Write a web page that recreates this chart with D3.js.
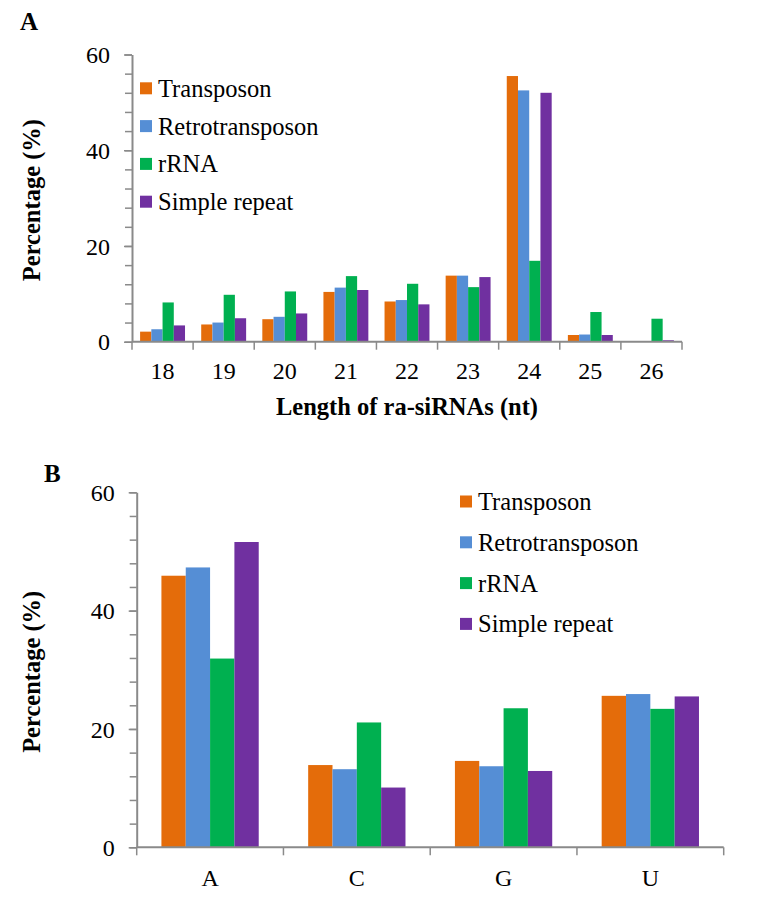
<!DOCTYPE html>
<html>
<head>
<meta charset="utf-8">
<script src="https://cdn.jsdelivr.net/npm/d3@7"></script>
<style>
  body { margin: 0; background: #fff; }
  svg text { font-family: "Liberation Serif", "Times New Roman", serif !important; fill: #000; }
</style>
</head>
<body>
<svg id="chart" width="758" height="906"></svg>
<script>
// series shared by both panels
var seriesNames = ["Transposon", "Retrotransposon", "rRNA", "Simple repeat"];
var seriesColors = ["#e46c0a", "#558ed5", "#00b050", "#7030a0"];

// panel A: length distribution
var lengths = ["18", "19", "20", "21", "22", "23", "24", "25", "26"];
var lenTransposon = [2.1, 3.6, 4.7, 10.4, 8.4, 13.8, 55.5, 1.4, 0];
var lenRetro = [2.6, 4.0, 5.2, 11.3, 8.7, 13.8, 52.5, 1.5, 0];
var lenRRNA = [8.2, 9.8, 10.5, 13.7, 12.1, 11.4, 16.9, 6.2, 4.8];
var lenSimple = [3.4, 4.9, 5.9, 10.8, 7.8, 13.5, 52.0, 1.4, 0.3];

// panel B: first nucleotide
var bases = ["A", "C", "G", "U"];
var baseTransposon = [45.9, 13.9, 14.6, 25.6];
var baseRetro = [47.3, 13.2, 13.7, 25.9];
var baseRRNA = [31.9, 21.1, 23.5, 23.4];
var baseSimple = [51.6, 10.1, 12.9, 25.5];

var yMajor = [0, 20, 40, 60];
var yMinor = d3.range(0, 61, 4);

var serif = "'Liberation Serif', 'Times New Roman', serif";
var axisColor = "#8a8a8a";
var svg = d3.select("#chart").attr("font-family", serif);

var drawPanel = function(cfg) {
  var g = svg.append("g");
  var table = cfg.cats.map(function(c, i) {
    return {cat: c, vals: cfg.values.map(function(v) { return v[i]; })};
  });

  var x = d3.scaleBand().domain(cfg.cats).range([cfg.left, cfg.right])
    .paddingInner(cfg.pad).paddingOuter(cfg.pad / 2);
  var xs = d3.scaleBand().domain(d3.range(seriesNames.length)).range([0, x.bandwidth()]);
  var y = d3.scaleLinear().domain([0, 60]).range([cfg.bottom, cfg.top]);

  // bars
  g.selectAll("g.grp").data(table).enter().append("g")
    .attr("transform", function(d) { return "translate(" + x(d.cat) + ",0)"; })
    .selectAll("rect").data(function(d) { return d.vals; }).enter().append("rect")
      .attr("x", function(d, i) { return xs(i); })
      .attr("width", xs.bandwidth())
      .attr("y", function(d) { return y(d); })
      .attr("height", function(d) { return y(0) - y(d); })
      .attr("fill", function(d, i) { return seriesColors[i]; });

  // y axis: minor then major ticks
  var minor = g.append("g").attr("transform", "translate(" + cfg.left + ",0)")
    .call(d3.axisLeft(y).tickValues(yMinor).tickSize(7).tickSizeOuter(0).tickFormat(""));
  minor.select(".domain").attr("stroke", axisColor).attr("stroke-width", 2);
  minor.selectAll(".tick line").attr("stroke", axisColor).attr("stroke-width", 1.5);

  var major = g.append("g").attr("transform", "translate(" + cfg.left + ",0)")
    .call(d3.axisLeft(y).tickValues(yMajor).tickSize(8).tickPadding(14).tickSizeOuter(0));
  major.attr("font-family", serif).attr("font-size", 24);
  major.select(".domain").remove();
  major.selectAll(".tick line").attr("stroke", axisColor).attr("stroke-width", 1.5);
  major.selectAll(".tick text")
    .style("font-family", serif)
    .style("font-size", "24px").attr("fill", "#000").attr("dy", "0.34em");

  // x axis line + category boundary ticks
  g.append("line")
    .attr("x1", cfg.left).attr("x2", cfg.right)
    .attr("y1", y(0)).attr("y2", y(0))
    .attr("stroke", axisColor).attr("stroke-width", 2);
  var bounds = d3.range(cfg.cats.length + 1);
  g.selectAll("line.bt").data(bounds).enter().append("line")
    .attr("x1", function(i) { return cfg.left + i * x.step(); })
    .attr("x2", function(i) { return cfg.left + i * x.step(); })
    .attr("y1", y(0)).attr("y2", y(0) + 8)
    .attr("stroke", axisColor).attr("stroke-width", 1.5);
  g.selectAll("text.cat").data(cfg.cats).enter().append("text")
    .attr("x", function(d) { return x(d) + x.bandwidth() / 2; })
    .attr("y", y(0) + cfg.catDy)
    .attr("text-anchor", "middle")
    .style("font-family", serif).style("font-size", "24px")
    .text(function(d) { return d; });

  // titles
  g.append("text")
    .attr("x", cfg.tagX).attr("y", cfg.tagY)
    .style("font-family", serif).style("font-size", "25px").style("font-weight", "bold")
    .text(cfg.tag);
  g.append("text")
    .attr("transform", "translate(40," + ((cfg.top + cfg.bottom) / 2 + 2) + ") rotate(-90)")
    .attr("text-anchor", "middle")
    .style("font-family", serif).style("font-size", "24.5px").style("font-weight", "bold")
    .text("Percentage (%)");
  if (cfg.xTitle) {
    g.append("text")
      .attr("x", (cfg.left + cfg.right) / 2) .attr("y", cfg.xTitleY)
      .attr("text-anchor", "middle")
      .style("font-family", serif).style("font-size", "24.5px").style("font-weight", "bold")
      .text(cfg.xTitle);
  }

  // legend
  var leg = g.selectAll("g.leg").data(seriesNames).enter().append("g")
    .attr("transform", function(d, i) {
      return "translate(" + cfg.legX + "," + (cfg.legY + i * cfg.legStep) + ")";
    });
  leg.append("rect")
    .attr("x", 0).attr("y", -6).attr("width", 12).attr("height", 12)
    .attr("fill", function(d, i) { return seriesColors[i]; });
  leg.append("text")
    .attr("x", 18).attr("y", 8.5)
    .style("font-family", serif).style("font-size", "24.5px")
    .text(function(d) { return d; });
};

drawPanel({
  cats: lengths,
  values: [lenTransposon, lenRetro, lenRRNA, lenSimple],
  left: 132, right: 682, top: 54.5, bottom: 341.7,
  pad: 0.265, catDy: 37.6,
  tag: "A", tagX: 20, tagY: 30,
  xTitle: "Length of ra-siRNAs (nt)", xTitleY: 415,
  legX: 140, legY: 88.3, legStep: 37.8
});

drawPanel({
  cats: bases,
  values: [baseTransposon, baseRetro, baseRRNA, baseSimple],
  left: 136.7, right: 723.7, top: 492.3, bottom: 847.3,
  pad: 0.337, catDy: 38.7,
  tag: "B", tagX: 44, tagY: 482,
  xTitle: null,
  legX: 460, legY: 501.5, legStep: 40.8
});
</script>
</body>
</html>
